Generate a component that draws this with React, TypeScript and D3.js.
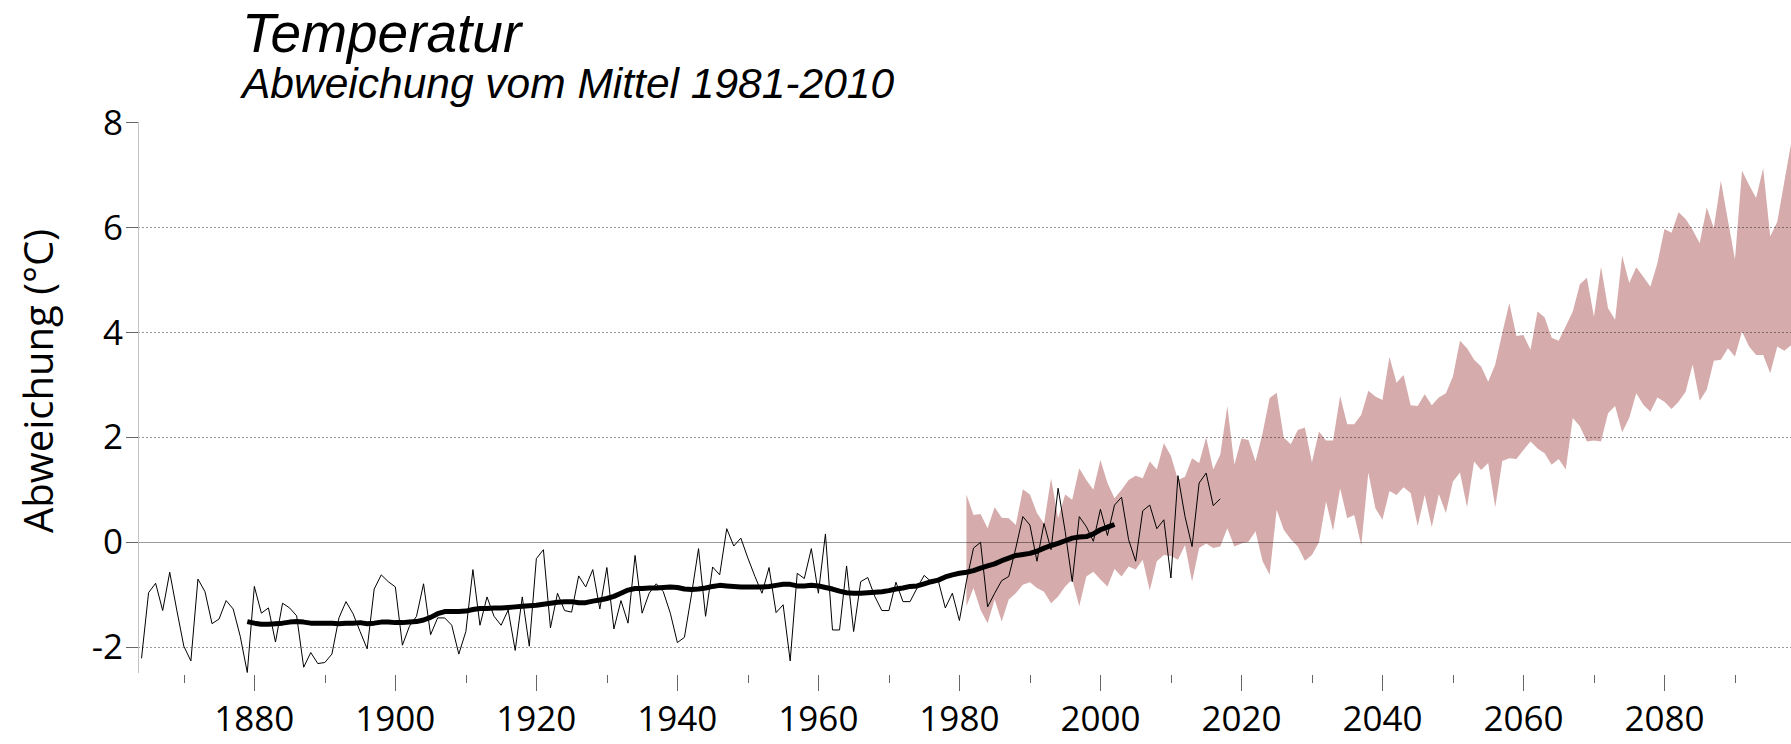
import React, { useEffect, useRef } from 'react'
import * as d3 from 'd3'

const WIDTH = 1791
const HEIGHT = 744

// annual temperature deviation, 1864-2017
const obsStart = 1864
const observed = [
  -2.22, -0.97, -0.79, -1.31, -0.58, -1.30,
  -1.99, -2.27, -0.71, -0.95, -1.56, -1.47, -1.12, -1.28, -1.80, -2.49,
  -0.85, -1.36, -1.26, -1.91, -1.17, -1.26, -1.41, -2.39, -2.11, -2.32,
  -2.30, -2.14, -1.45, -1.14, -1.37, -1.71, -2.04, -0.90, -0.63, -0.76,
  -0.86, -1.97, -1.61, -1.42, -0.80, -1.77, -1.45, -1.45, -1.59, -2.14,
  -1.71, -0.53, -1.59, -1.05, -1.42, -1.59, -1.30, -2.07, -1.05, -1.99,
  -0.32, -0.15, -1.64, -0.98, -1.31, -1.34, -0.65, -0.86, -0.53, -1.28,
  -0.49, -1.66, -1.12, -1.55, -0.26, -1.36, -0.98, -0.80, -0.95, -1.36,
  -1.92, -1.82, -1.01, -0.13, -1.42, -0.48, -0.63, 0.25, -0.08, 0.07,
  -0.31, -0.66, -0.98, -0.49, -1.35, -1.20, -2.27, -0.60, -0.70, -0.13,
  -0.98, 0.15, -1.68, -1.68, -0.46, -1.71, -0.76, -0.68, -1.04, -1.31,
  -1.31, -0.77, -1.14, -1.14, -0.88, -0.64, -0.76, -0.74, -1.26, -0.98,
  -1.50, -0.75, -0.12, -0.01, -1.24, -0.98, -0.74, -0.66, -0.12, 0.48,
  0.32, -0.37, 0.35, -0.15, 1.02, 0.20, -0.76, 0.48, 0.29, 0.01,
  0.62, 0.12, 0.70, 0.85, 0.04, -0.37, 0.59, 0.70, 0.25, 0.42,
  -0.69, 1.26, 0.48, -0.09, 1.12, 1.31, 0.69, 0.82
]

// smoothed mean, 1879-2002
const smoothStart = 1879
const smoothed = [
  -1.52,
  -1.55, -1.57, -1.57, -1.56, -1.55, -1.53, -1.52, -1.53, -1.55, -1.55,
  -1.55, -1.55, -1.56, -1.55, -1.55, -1.54, -1.56, -1.55, -1.53, -1.53,
  -1.54, -1.54, -1.53, -1.52, -1.49, -1.44, -1.37, -1.33, -1.33, -1.33,
  -1.32, -1.29, -1.27, -1.27, -1.26, -1.26, -1.25, -1.24, -1.23, -1.22,
  -1.21, -1.19, -1.17, -1.15, -1.14, -1.14, -1.16, -1.16, -1.13, -1.11,
  -1.08, -1.04, -0.98, -0.92, -0.89, -0.89, -0.88, -0.88, -0.87, -0.86,
  -0.87, -0.90, -0.91, -0.90, -0.88, -0.85, -0.83, -0.84, -0.85, -0.86,
  -0.86, -0.86, -0.86, -0.85, -0.83, -0.81, -0.81, -0.84, -0.84, -0.83,
  -0.84, -0.87, -0.90, -0.94, -0.97, -0.98, -0.98, -0.97, -0.96, -0.95,
  -0.93, -0.90, -0.88, -0.85, -0.84, -0.80, -0.76, -0.73, -0.67, -0.63,
  -0.60, -0.58, -0.55, -0.50, -0.46, -0.42, -0.36, -0.31, -0.26, -0.24,
  -0.22, -0.18, -0.12, -0.07, -0.03, 0.02, 0.07, 0.09, 0.10, 0.15,
  0.23, 0.28, 0.33
]

// scenario range, 1981-2098
const bandStart = 1981
const bandUpper = [
  0.90, 0.51, 0.53, 0.26, 0.66, 0.46, 0.45, 0.32, 1.00, 0.90,
  0.55, 0.35, 1.21, 0.45, 0.90, 0.80, 1.40, 1.18, 0.99, 1.56,
  1.12, 0.83, 0.99, 1.18, 1.26, 1.21, 1.53, 1.38, 1.88, 1.64,
  1.18, 1.24, 1.59, 1.50, 1.99, 1.38, 1.66, 2.59, 1.47, 1.97,
  1.94, 1.53, 2.07, 2.74, 2.84, 1.99, 1.86, 2.13, 2.18, 1.51,
  2.10, 1.93, 1.93, 2.78, 2.24, 2.24, 2.42, 2.88, 2.77, 2.70,
  3.52, 3.03, 3.18, 2.60, 2.59, 2.81, 2.60, 2.75, 2.83, 3.15,
  3.83, 3.69, 3.47, 3.34, 3.05, 3.38, 3.98, 4.55, 3.92, 3.94,
  3.66, 4.39, 4.28, 3.89, 3.83, 4.11, 4.39, 4.91, 5.03, 4.29,
  5.24, 4.45, 4.23, 5.45, 4.93, 5.23, 5.05, 4.86, 5.31, 5.96,
  5.89, 6.28, 6.15, 5.94, 5.69, 6.37, 5.98, 6.88, 6.13, 5.38,
  7.07, 6.80, 6.55, 7.12, 5.82, 6.10, 6.86, 7.62
]
const bandLower = [
  -1.23, -0.88, -1.30, -1.55, -1.10, -1.52, -1.10, -0.98, -0.82, -0.77,
  -0.88, -0.95, -1.17, -1.04, -0.85, -0.72, -1.23, -0.66, -0.57, -0.72,
  -0.85, -0.52, -0.66, -0.47, -0.53, -0.34, -0.93, -0.37, -0.25, -0.27,
  -0.34, -0.06, -0.76, -0.12, -0.03, -0.12, -0.09, 0.26, -0.09, -0.03,
  0.00, 0.20, -0.37, -0.63, 0.61, 0.23, 0.05, -0.09, -0.36, -0.25,
  -0.01, 0.77, 0.21, 1.02, 0.45, 0.51, -0.07, 1.32, 0.64, 0.42,
  0.97, 0.89, 1.04, 0.93, 0.30, 0.89, 0.28, 0.91, 0.55, 1.15,
  1.32, 0.66, 1.53, 1.37, 1.50, 0.66, 1.54, 1.59, 1.58, 1.75,
  1.91, 1.78, 1.69, 1.47, 1.58, 1.38, 2.36, 2.20, 1.91, 1.93,
  1.91, 2.45, 2.59, 2.09, 2.36, 2.83, 2.61, 2.48, 2.75, 2.67,
  2.53, 2.67, 2.86, 3.38, 2.69, 2.90, 3.45, 3.47, 3.69, 3.53,
  4.01, 3.72, 3.56, 3.56, 3.21, 3.72, 3.64, 3.75
]

const yTicks = [-2, 0, 2, 4, 6, 8]
const dottedGrid = [-2, 2, 4, 6]
const xMinorTicks = [1870, 1890, 1910, 1930, 1950, 1970, 1990, 2010, 2030, 2050, 2070, 2090]
const xLabels = [1880, 1900, 1920, 1940, 1960, 1980, 2000, 2020, 2040, 2060, 2080]

const TICK_FONT = '"Open Sans", "Noto Sans", sans-serif'
const TITLE_FONT = '"Liberation Sans", Arial, sans-serif'

export default function App () {
  const ref = useRef<SVGSVGElement>(null)

  useEffect(() => {
    document.body.style.margin = '0'
    const svg = d3.select(ref.current)
    svg.selectAll('*').remove()

    const x = d3.scaleLinear().domain([1863.5, 2100.5]).range([138, 1809])
    const y = d3.scaleLinear().domain([-2.5, 8]).range([673, 122])

    const left = x(1863.5)

    // scenario band
    const band = bandUpper.map((hi, i) => ({ year: bandStart + i, hi, lo: bandLower[i] }))
    const area = d3.area<{ year: number, hi: number, lo: number }>()
      .x(d => x(d.year))
      .y0(d => y(d.lo))
      .y1(d => y(d.hi))
    svg.append('path')
      .attr('d', area(band))
      .attr('fill', '#d6abab')

    // grid lines
    svg.selectAll('line.grid')
      .data(dottedGrid)
      .enter()
      .append('line')
        .attr('class', 'grid')
        .attr('x1', left)
        .attr('x2', WIDTH)
        .attr('y1', d => Math.round(y(d)) + 0.5)
        .attr('y2', d => Math.round(y(d)) + 0.5)
        .attr('stroke', '#000')
        .attr('stroke-opacity', 0.4)
        .attr('stroke-dasharray', '2,2')
    svg.append('line')
      .attr('x1', left)
      .attr('x2', WIDTH)
      .attr('y1', Math.round(y(0)) + 0.5)
      .attr('y2', Math.round(y(0)) + 0.5)
      .attr('stroke', '#000')
      .attr('stroke-opacity', 0.4)

    // y axis
    svg.append('line')
      .attr('x1', left + 0.5)
      .attr('x2', left + 0.5)
      .attr('y1', y(8))
      .attr('y2', y(-2.5))
      .attr('stroke', '#c4c4c4')
    svg.selectAll('line.ytick')
      .data(yTicks)
      .enter()
      .append('line')
        .attr('class', 'ytick')
        .attr('x1', left - 12)
        .attr('x2', left)
        .attr('y1', d => Math.round(y(d)) + 0.5)
        .attr('y2', d => Math.round(y(d)) + 0.5)
        .attr('stroke', '#666')
    svg.selectAll('text.ylabel')
      .data(yTicks)
      .enter()
      .append('text')
        .attr('class', 'ylabel')
        .attr('x', left - 15)
        .attr('y', d => y(d))
        .attr('dy', '0.36em')
        .attr('text-anchor', 'end')
        .attr('font-family', TICK_FONT)
        .attr('font-size', 35)
        .text(d => String(d))

    // x axis ticks
    const xAxisY = y(-2.5) + 2
    svg.selectAll('line.xminor')
      .data(xMinorTicks)
      .enter()
      .append('line')
        .attr('class', 'xminor')
        .attr('x1', d => Math.round(x(d)) + 0.5)
        .attr('x2', d => Math.round(x(d)) + 0.5)
        .attr('y1', xAxisY)
        .attr('y2', xAxisY + 8)
        .attr('stroke', '#666')
    svg.selectAll('line.xmajor')
      .data(xLabels)
      .enter()
      .append('line')
        .attr('class', 'xmajor')
        .attr('x1', d => Math.round(x(d)) + 0.5)
        .attr('x2', d => Math.round(x(d)) + 0.5)
        .attr('y1', xAxisY)
        .attr('y2', xAxisY + 16)
        .attr('stroke', '#666')
    svg.selectAll('text.xlabel')
      .data(xLabels)
      .enter()
      .append('text')
        .attr('class', 'xlabel')
        .attr('x', d => x(d))
        .attr('y', 731)
        .attr('text-anchor', 'middle')
        .attr('font-family', TICK_FONT)
        .attr('font-size', 35)
        .text(d => String(d))

    // observed and smoothed lines
    svg.append('path')
      .attr('d', d3.line<number>().x((d, i) => x(obsStart + i)).y(d => y(d))(observed))
      .attr('fill', 'none')
      .attr('stroke', '#000')
      .attr('stroke-width', 1)
    svg.append('path')
      .attr('d', d3.line<number>().x((d, i) => x(smoothStart + i)).y(d => y(d))(smoothed))
      .attr('fill', 'none')
      .attr('stroke', '#000')
      .attr('stroke-width', 5)
      .attr('stroke-linejoin', 'round')

    // titles
    svg.append('text')
      .attr('x', 242)
      .attr('y', 52)
      .attr('font-family', TITLE_FONT)
      .attr('font-style', 'italic')
      .attr('font-size', 55)
      .text('Temperatur')
    svg.append('text')
      .attr('x', 242)
      .attr('y', 98)
      .attr('font-family', TITLE_FONT)
      .attr('font-style', 'italic')
      .attr('font-size', 42.5)
      .text('Abweichung vom Mittel 1981-2010')
    svg.append('text')
      .attr('transform', 'translate(53,381) rotate(-90)')
      .attr('text-anchor', 'middle')
      .attr('font-family', TICK_FONT)
      .attr('font-size', 40)
      .text('Abweichung (°C)')
  }, [])

  return (
    <svg ref={ref} width={WIDTH} height={HEIGHT} style={{ display: 'block', background: '#fff' }} />
  )
}
